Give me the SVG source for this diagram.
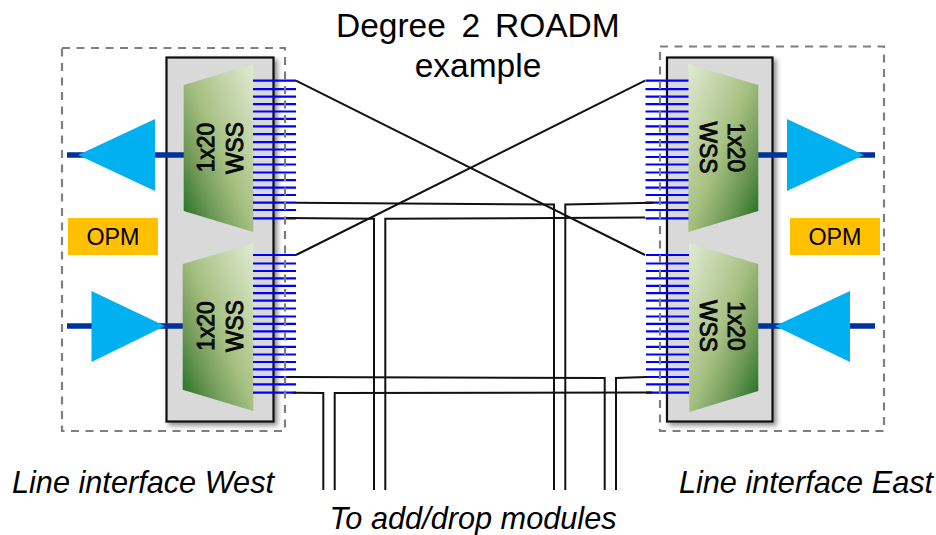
<svg xmlns="http://www.w3.org/2000/svg" xmlns:xlink="http://www.w3.org/1999/xlink" width="936" height="535" viewBox="0 0 936 535">
<style>
text{font-family:"Liberation Sans",Arial,sans-serif;fill:#000}
.title{font-size:33.500px}
.mid{text-anchor:middle}
.cap{font-size:30.700px;font-style:italic;text-anchor:middle}
.opm{font-size:23.300px;text-anchor:middle}
.wss{font-size:24.500px;text-anchor:middle;fill:#0a0a0a;stroke:#0a0a0a;stroke-width:1}
.panel{fill:#d9d9d9;stroke:#111;stroke-width:2.2;filter:url(#sh)}
.dash{fill:none;stroke:#7f7f7f;stroke-width:2.200;stroke-dasharray:8 6.5}
.fib{stroke:#003399;stroke-width:5.5;fill:none}
.amp{fill:#00b0f0}
.box{fill:#ffc000}
.comb{stroke:#0000ff;stroke-width:2.200;fill:none}
.c{fill:none;stroke:#111;stroke-width:2}
</style>
<defs>
<filter id="sh" x="-10%" y="-5%" width="125%" height="112%"><feDropShadow dx="3" dy="3" stdDeviation="2.5" flood-color="#000" flood-opacity="0.45"/></filter>
<linearGradient id="gl" x1="1" y1="0" x2="0" y2="1"><stop offset="0" stop-color="#e0ebd2"/><stop offset="0.5" stop-color="#a5bf80"/><stop offset="0.75" stop-color="#6b9654"/><stop offset="1" stop-color="#176b1c"/></linearGradient>
<linearGradient id="gr" x1="0" y1="0" x2="1" y2="1"><stop offset="0" stop-color="#e0ebd2"/><stop offset="0.5" stop-color="#a5bf80"/><stop offset="0.75" stop-color="#6b9654"/><stop offset="1" stop-color="#176b1c"/></linearGradient>
<path id="teeth" d="M0 0h43M0 8.5h43M0 16h43M0 23.4h43M0 30.8h43M0 38.2h43M0 45.7h43M0 53.5h43M0 61.5h43M0 68.8h43M0 76.3h43M0 83.8h43M0 91.8h43M0 99.5h43M0 107h43M0 114.3h43M0 122h43M0 129.3h43M0 137.7h43"/>
</defs>
<g id="line-interface-west">
<rect class="panel" x="166.500" y="57.500" width="107" height="364"/>
</g>
<g id="line-interface-east">
<rect class="panel" x="667" y="57.500" width="105.500" height="364"/>
</g>
<g id="fibres">
<path class="fib" d="M67 155H184M67 326H183M758 155H875M758 326H875"/>
</g>
<g id="wss-west-top">
<polygon points="183.700,85 253.300,64 253.300,232 183.700,211" fill="url(#gl)"/>
<text class="wss" transform="translate(214,147.500) rotate(-90) scale(0.93,1)">1x20</text>
<text class="wss" transform="translate(242.500,148) rotate(-90) scale(0.93,1)">WSS</text>
</g>
<g id="wss-west-bottom">
<polygon points="182.700,264 253.300,243.300 253.300,411 182.700,389.700" fill="url(#gl)"/>
<text class="wss" transform="translate(214,326) rotate(-90) scale(0.93,1)">1x20</text>
<text class="wss" transform="translate(242.500,326) rotate(-90) scale(0.93,1)">WSS</text>
</g>
<g id="wss-east-top">
<polygon points="688.300,64 758.300,85 758.300,211 688.300,232" fill="url(#gr)"/>
<text class="wss" transform="translate(728,147.500) rotate(90) scale(0.93,1)">1x20</text>
<text class="wss" transform="translate(699.500,147.500) rotate(90) scale(0.93,1)">WSS</text>
</g>
<g id="wss-east-bottom">
<polygon points="689.300,243.300 758.300,264 758.300,391 689.300,412" fill="url(#gr)"/>
<text class="wss" transform="translate(728,326) rotate(90) scale(0.93,1)">1x20</text>
<text class="wss" transform="translate(699.500,326) rotate(90) scale(0.93,1)">WSS</text>
</g>
<g id="amp-west-top"><polygon class="amp" points="78,155 155,119 155,191"/></g>
<g id="amp-west-bottom"><polygon class="amp" points="91.500,291 91.500,362 165,326"/></g>
<g id="amp-east-top"><polygon class="amp" points="787,119 787,191 864,155"/></g>
<g id="amp-east-bottom"><polygon class="amp" points="850,291 850,362 775,326"/></g>
<g id="opm-west"><rect class="box" x="68" y="218" width="90" height="37"/><text class="opm" x="113" y="245">OPM</text></g>
<g id="opm-east"><rect class="box" x="790" y="218" width="90" height="37"/><text class="opm" x="835" y="245">OPM</text></g>
<g id="ports">
<use class="comb" xlink:href="#teeth" href="#teeth" x="253" y="80.700"/>
<use class="comb" xlink:href="#teeth" href="#teeth" x="253" y="255"/>
<use class="comb" xlink:href="#teeth" href="#teeth" x="645.500" y="80.700"/>
<use class="comb" xlink:href="#teeth" href="#teeth" x="646" y="255"/>
</g>
<g id="connectors">
<path class="c" d="M296 80.700L645 255"/>
<path class="c" d="M296 255L645 80.700"/>
<path class="c" d="M296 202.700L554 204.500V490"/>
<path class="c" d="M286 218L374 218.800V490"/>
<path class="c" d="M653 202.700L565.300 204.500V490"/>
<path class="c" d="M645 217.500L385.300 218.800V490"/>
<path class="c" d="M288 377L604.700 378V490"/>
<path class="c" d="M293 392.700L323.300 393V490"/>
<path class="c" d="M652 392.500L334.700 393V490"/>
<path class="c" d="M647 377L616 378V490"/>
</g>
<g id="frames">
<rect class="dash" x="62" y="48" width="223" height="383"/>
<rect class="dash" x="660" y="46.500" width="224" height="384.500"/>
</g>
<g id="labels">
<text class="title" x="336"  y="36.500">Degree<tspan x="461.500">2</tspan><tspan x="495">ROADM</tspan></text>
<text class="title mid" x="478" y="77">example</text>
<text class="cap" x="143" y="492.500">Line interface West</text>
<text class="cap" x="806" y="492.500">Line interface East</text>
<text class="cap" x="473" y="528.500">To add/drop modules</text>
</g>
</svg>
